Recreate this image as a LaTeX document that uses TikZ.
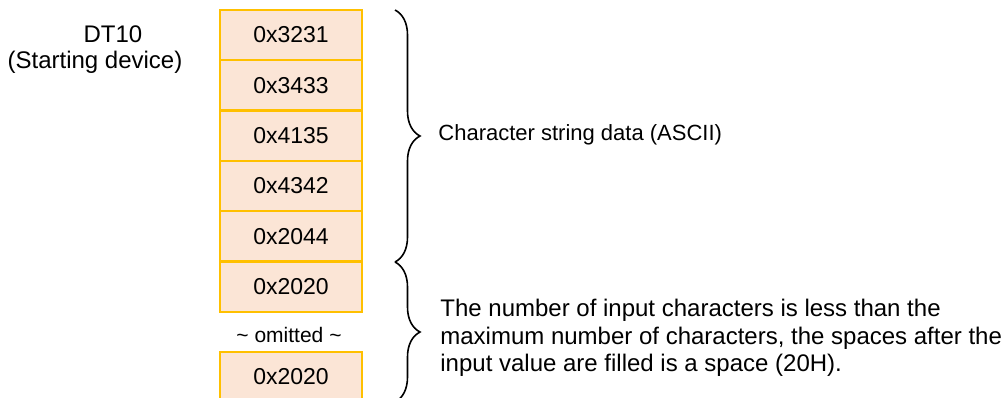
\documentclass[tikz,border=0pt]{standalone}
\usepackage{fontspec}
\setmainfont{Liberation Sans}
\usetikzlibrary{positioning,decorations.pathreplacing}
\definecolor{cellfill}{HTML}{FBE5D6}
\definecolor{celledge}{HTML}{FFC000}
\tikzset{
cell/.style={draw=celledge,fill=cellfill,line width=1pt,minimum width=71pt,minimum height=25pt,inner sep=0pt,font=\fontsize{11.5}{13}\selectfont},
grp/.style={decorate,decoration={brace,amplitude=12.5pt},line width=0.8pt},
note/.style={font=\fontsize{11}{13.8}\selectfont,align=left,anchor=west,inner sep=0pt},
lbl/.style={font=\fontsize{12}{13}\selectfont,inner sep=0pt}
}

\begin{document}
\begin{tikzpicture}[x=0.5pt,y=-0.5pt]
\useasboundingbox (0,0) rectangle (1005,397);
\clip (0,0) rectangle (1005,397);
% start device
\node[lbl] (dt) at (113,34) {DT10};
\node[lbl] (start) at (95,62) {(Starting device)};
% register contents
\foreach \val [count=\i] in {3231,3433,4135,4342,2044,2020}
  \node[cell] (c\i) at (291,{35+50.3*(\i-1)}) {0x\val};
\node[font=\fontsize{10.5}{12}\selectfont,inner sep=0pt] (omit) at (289,335) {\textasciitilde{} omitted \textasciitilde};
\node[cell] (c7) at (291,377) {0x2020};
% braces
\coordinate (btop) at (395,10);
\coordinate (bmid) at (395,262);
\coordinate (bbot) at (395,402);
\draw[grp] (btop) -- (bmid);
\draw[grp] (bmid) -- (bbot);
\node[note] (ascii) at (438,135) {Character string data (ASCII)};
\node[note,font=\fontsize{12}{13.8}\selectfont] (pad) at (440,338) {The number of input characters is less than the\\maximum number of characters, the spaces after the\\input value are filled is a space (20H).};
\end{tikzpicture}
\end{document}
